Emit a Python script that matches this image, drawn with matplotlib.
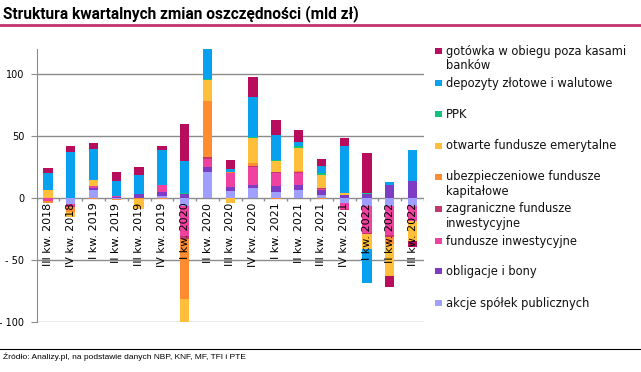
import numpy as np
import matplotlib
matplotlib.use("Agg")
import matplotlib.pyplot as plt
from matplotlib.patches import Rectangle
from matplotlib.lines import Line2D

# kwartały
quarters = ["III kw. 2018", "IV kw. 2018", "I kw. 2019", "II kw. 2019", "III kw. 2019",
            "IV kw. 2019", "I kw. 2020", "II kw. 2020", "III kw. 2020", "IV kw. 2020",
            "I kw. 2021", "II kw. 2021", "III kw. 2021", "IV kw. 2021", "I kw. 2022",
            "II kw. 2022", "III kw. 2022"]

# serie (mld zł), kolejność od dołu stosu
akcje = [0, -5, 6.5, -1, 0, 1.6, -6.5, 20.4, 5.7, 8.2, 4.9, 6.5, 2.4, -4, -6.5, -6.5, -6.5]
obligacje = [0, 0, 1, 1, 2.7, 3.3, 3, 4.3, 3.3, 2.4, 4.9, 4.1, 4.1, 2.4, 3.3, 10.6, 13.9]
fundusze_inw = [-3, -1.5, 1.6, 0.5, 0.5, 5.2, -24.5, 6.5, 10.9, 13.9, 9.8, 9, 0.8, -4.9, -21.7, -23.6, -12.2]
zagraniczne = [0, -1, 0, 0, 0, 0.5, -2, 1.6, 0, 0.8, 0.8, 0.8, 0.8, -1, -1, -1.6, 0]
ubezp = [-1, -4, -1, -0.5, -1, -1, -48.6, 45.4, 0.8, 2.5, -1, 0.8, -1, 0, 0, -5.7, 0]
ofe = [6.5, -4, 5, 0, -8, 0, -25, 16.8, -4, 20.4, 9, 18.7, 10.6, 1.6, -12.5, -26.1, -16.3]
ppk = [0, 0, 0, 0, 0, 0, 1, 0.8, 0, 0.8, 0.8, 1.6, 1.6, 0, 0.8, 0, 0]
depozyty = [13.1, 36.7, 25, 12.4, 15.5, 27.7, 26, 27, 2.2, 32.6, 20.4, 3.3, 5.7, 37.5, -26.9, 2.4, 24.4]
gotowka = [4, 5, 5, 6.5, 5.8, 3.3, 29.3, 5, 7.4, 15.5, 12.2, 9.8, 4.9, 6.5, 31.8, -8.2, -4.9]

series = [akcje, obligacje, fundusze_inw, zagraniczne, ubezp, ofe, ppk, depozyty, gotowka]
names = ["akcje spółek publicznych", "obligacje i bony", "fundusze inwestycyjne",
         "zagraniczne fundusze\ninwestycyjne", "ubezpieczeniowe fundusze\nkapitałowe",
         "otwarte fundusze emerytalne", "PPK", "depozyty złotowe i walutowe",
         "gotówka w obiegu poza kasami\nbanków"]
colors = ["#9F9FFF", "#7C3CC4", "#EE41A0", "#C2386E", "#FF8C30",
          "#FFBF3A", "#12C27E", "#08A1F0", "#B80C5C"]

yticks = [-100, -50, 0, 50, 100]
ytick_labels = ["- 100", "- 50", "0", "50", "100"]

fig = plt.figure(figsize=(6.41, 3.72), dpi=100)
W, H = 641, 372
ax = fig.add_axes([36.6 / W, 1 - 321.7 / H, (424 - 36.6) / W, (321.7 - 49) / H])

x = np.arange(len(quarters))
pos = np.zeros(len(quarters))
neg = np.zeros(len(quarters))
for vals, c in zip(series, colors):
    v = np.array(vals, dtype=float)
    bottom = np.where(v >= 0, pos, neg)
    ax.bar(x, v, bottom=bottom, width=0.41, color=c, linewidth=0, zorder=2)
    pos = pos + np.where(v >= 0, v, 0)
    neg = neg + np.where(v < 0, v, 0)

ax.set_xlim(-0.5, len(quarters) - 0.5)
ax.set_ylim(-100, 120)

# siatka
for yv in yticks:
    ax.axhline(yv, color="#8C8C8C", lw=1, zorder=1)
ax.vlines(np.arange(len(quarters) + 1) - 0.5, -3, 0, color="#8C8C8C", lw=1, zorder=1)

for s in ["top", "right", "bottom"]:
    ax.spines[s].set_visible(False)
ax.spines["left"].set_color("#8C8C8C")
ax.set_xticks([])
ax.set_yticks(yticks)
ax.set_yticklabels(ytick_labels, fontsize=7, family="DejaVu Sans")
ax.tick_params(axis="y", length=4, color="#8C8C8C", pad=5)

# etykiety kwartałów przy osi zero
for i, q in enumerate(quarters):
    ax.text(i, -4, q, rotation=90, ha="center", va="top", fontsize=8,
            family="DejaVu Sans", zorder=5)

# tytuł
fig.text(3 / W, 1 - 13.5 / H, "Struktura kwartalnych zmian oszczędności (mld zł)",
         fontsize=11.2, fontweight="bold", family="Roboto", va="center", ha="left")
fig.add_artist(Line2D([0, 1], [1 - 24.5 / H, 1 - 24.5 / H], color="#C2336E", lw=2))

# legenda
leg_y = [303, 271, 241, 209, 177, 146, 114, 83, 51]
for name, c, yp in zip(names, colors, leg_y):
    fig.add_artist(Rectangle((435 / W, 1 - (yp + 3.3) / H), 6.6 / W, 6.6 / H,
                             transform=fig.transFigure, color=c, lw=0))
    fig.text(446 / W, 1 - (yp - 6.5) / H, name, fontsize=8.3, family="DejaVu Sans",
             color="#111111", va="top", ha="left", linespacing=1.12)

# źródło
fig.add_artist(Line2D([0, 1], [1 - 349 / H, 1 - 349 / H], color="black", lw=0.8))
fig.text(3 / W, 1 - 357 / H, "Źródło: Analizy.pl, na podstawie danych NBP, KNF, MF, TFI i PTE",
         fontsize=6, family="Liberation Sans", va="center", ha="left")

fig.savefig("out.png", dpi=100)
